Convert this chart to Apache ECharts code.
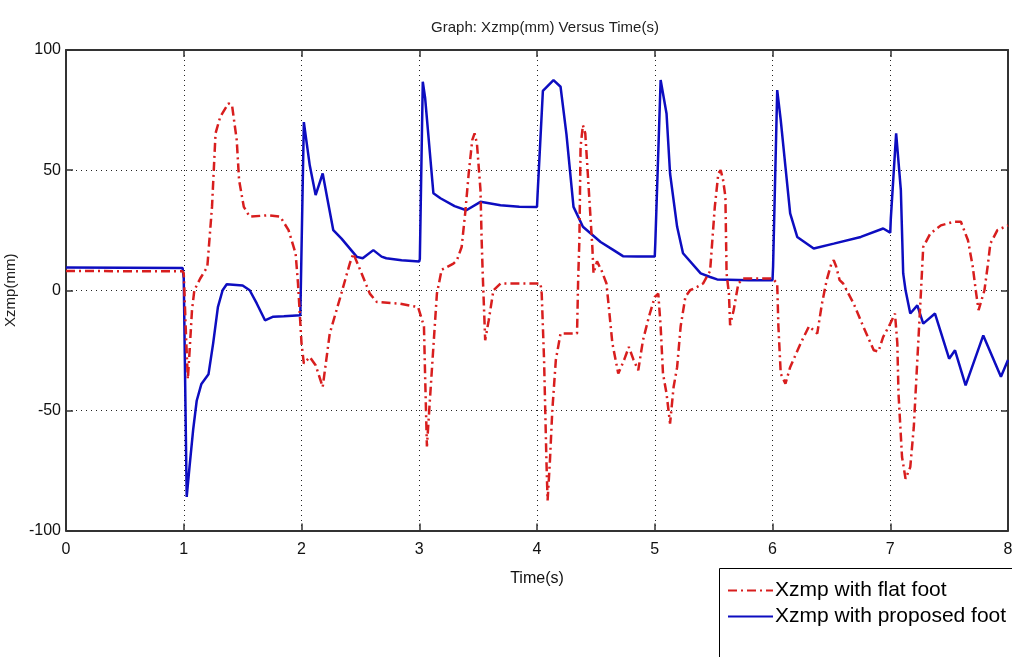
<!DOCTYPE html>
<html>
<head>
<meta charset="utf-8">
<script src="https://cdn.jsdelivr.net/npm/echarts@6/dist/echarts.min.js"></script>
<style>html,body{margin:0;padding:0;background:#fff;}#c{width:1012px;height:657px;}</style>
</head>
<body>
<div id="c"></div>
<script>
var titleText = 'Graph: Xzmp(mm) Versus Time(s)';
var xName = 'Time(s)';
var yName = 'Xzmp(mm)';
var flatName = 'Xzmp with flat foot';
var propName = 'Xzmp with proposed foot';
var xTicks = [0, 1, 2, 3, 4, 5, 6, 7, 8];
var yTicks = [-100, -50, 0, 50, 100];

// Xzmp with proposed foot (blue)
var propT = [0, 0.99, 1.0, 1.025, 1.05, 1.08, 1.11, 1.15, 1.21, 1.25, 1.29, 1.33, 1.365, 1.5, 1.56, 1.62, 1.69, 1.76, 1.85, 1.99,
  2.005, 2.02, 2.07, 2.12, 2.18, 2.22, 2.27, 2.34, 2.47, 2.52, 2.61, 2.68, 2.72, 2.85, 3.0,
  3.005, 3.03, 3.05, 3.12, 3.18, 3.3, 3.4, 3.52, 3.69, 3.85, 4.0,
  4.005, 4.05, 4.14, 4.2, 4.25, 4.31, 4.39, 4.54, 4.65, 4.73, 4.85, 5.0,
  5.005, 5.05, 5.1, 5.13, 5.19, 5.24, 5.39, 5.47, 5.53, 5.8, 6.0,
  6.005, 6.04, 6.07, 6.11, 6.15, 6.21, 6.35, 6.52, 6.75, 6.94, 7.0,
  7.005, 7.05, 7.09, 7.11, 7.13, 7.17, 7.23, 7.28, 7.38, 7.5, 7.55, 7.64, 7.79, 7.94, 8.0];
var propY = [9.5, 9.3, 5, -86, -73, -58, -46, -39, -35, -22, -7, 0, 2.5, 2, 0, -5.5, -12.5, -11, -10.8, -10.4,
  -10, 70, 52, 39.6, 48.6, 38, 25, 21.5, 13.9, 13.3, 16.7, 14, 13.3, 12.5, 12,
  13, 86.8, 80, 40.4, 38.3, 35, 33.3, 36.8, 35.4, 34.8, 34.7,
  40, 83, 87.5, 84.7, 65, 34.7, 26.4, 20.1, 16.7, 14.2, 14, 14,
  20, 87.5, 73.6, 48.6, 26.4, 15.4, 7, 5.5, 4.5, 4.2, 4.2,
  10, 83.3, 70.8, 51.4, 32, 22.2, 17.4, 19.4, 22.2, 25.7, 24,
  30, 65.3, 41.7, 7, 0, -9.7, -6.3, -13.9, -9.7, -28.5, -25, -39.6, -18.8, -36, -29];

// Xzmp with flat foot (red, dash-dot)
var flatT = [0, 0.99, 1.0, 1.02, 1.035, 1.05, 1.07, 1.09, 1.14, 1.2, 1.24, 1.27, 1.31, 1.38, 1.41, 1.45, 1.47, 1.51, 1.56, 1.71, 1.82, 1.89, 1.95, 1.97,
  2.0, 2.02, 2.07, 2.12, 2.18, 2.24, 2.33, 2.41, 2.44, 2.5, 2.58, 2.64, 2.84, 2.99,
  3.04, 3.05, 3.065, 3.09, 3.12, 3.15, 3.19, 3.29, 3.32, 3.36, 3.39, 3.42, 3.45, 3.47, 3.49, 3.52, 3.53, 3.54, 3.56, 3.59, 3.63, 3.69, 4.03,
  4.04, 4.06, 4.08, 4.09, 4.11, 4.13, 4.16, 4.2, 4.34, 4.35, 4.36, 4.37, 4.39, 4.41, 4.44, 4.47, 4.48, 4.51, 4.55, 4.59, 4.64, 4.69, 4.74, 4.78, 4.82, 4.86, 4.9, 4.95, 5.0,
  5.03, 5.05, 5.07, 5.1, 5.13, 5.16, 5.19, 5.22, 5.26, 5.3, 5.36, 5.41, 5.47, 5.51, 5.54, 5.56, 5.58, 5.6, 5.61, 5.63, 5.64, 5.67, 5.71, 5.75, 6.0,
  6.04, 6.05, 6.07, 6.11, 6.15, 6.24, 6.31, 6.35, 6.38, 6.42, 6.46, 6.5, 6.52, 6.54, 6.57, 6.6, 6.69, 6.77, 6.86, 6.9, 6.94, 7.0,
  7.04, 7.06, 7.07, 7.1, 7.13, 7.17, 7.2, 7.23, 7.26, 7.28, 7.34, 7.43, 7.54, 7.6, 7.66, 7.7, 7.73, 7.75, 7.8, 7.83, 7.85, 7.91, 8.0];
var flatY = [8, 7.9, 7, -20, -37, -25, -8.3, 0, 4.9, 9.7, 34.7, 65.3, 72.2, 77.8, 77, 62.5, 45.8, 34.7, 30.6, 31.2, 30.6, 25, 15.3, 3,
  -22, -30.5, -27.8, -31.2, -40.3, -18, -2.8, 11.1, 15.3, 8.3, -1.4, -4.9, -5.6, -7,
  -15, -36, -65, -46, -23.6, -1.4, 8.5, 11.1, 12.5, 18, 32, 48.6, 62.5, 65.3, 61, 41.7, 20.8, 5.5, -20.8, -12.5, 0, 2.8, 2.8,
  -1.4, -29, -70.8, -87.5, -70.8, -50, -29, -18, -18, 5.5, 20.8, 59.7, 68.7, 65.3, 41.7, 18, 7, 12, 8, 2.8, -22, -34.7, -29, -23.6, -29, -33.3, -20.8, -11.1, -2.8,
  -1.4, -15, -34.7, -43, -55.5, -40.3, -32, -15, -2.8, 0, 1.4, 2.8, 8, 34.7, 48.6, 50, 46, 38.9, 7, -1.4, -14.6, -8.3, 2.8, 4.9, 4.9,
  2.8, -15, -34.7, -38.9, -32, -22, -15, -16.7, -18, -5.6, 4.2, 11.1, 12.5, 10, 4.2, 2.8, -5.6, -15, -25, -25.5, -19.4, -13.9,
  -9.7, -22, -43, -69.4, -78.5, -73.6, -57, -29, -1.4, 18, 23.6, 27, 28.5, 28.5, 20.8, 10, -1.4, -8.3, 0, 11, 19.4, 25, 27];

function pairs(t, y) { return t.map(function (v, i) { return [v, y[i]]; }); }

var sans = "'Liberation Sans', Arial, sans-serif";
var chart = echarts.init(document.getElementById('c'));
chart.setOption({
  animation: false,
  backgroundColor: '#fff',
  title: {
    text: titleText, left: 540, top: 15, textAlign: 'center',
    textStyle: { fontFamily: sans, fontSize: 15, fontWeight: 'normal', color: '#222' }
  },
  grid: { left: 66, right: 4, top: 50, bottom: 126.5, containLabel: false, outerBoundsMode: 'none' },
  graphic: [{
    type: 'rect', left: 719, top: 568, z: 100,
    shape: { width: 400, height: 200 },
    style: { fill: '#fff', stroke: '#000', lineWidth: 1 }
  }],
  legend: {
    data: [flatName, propName],
    orient: 'vertical', left: 727, top: 580, z: 110,
    itemWidth: 45, itemHeight: 14, itemGap: 5,
    padding: 0,
    itemStyle: { color: 'rgba(0,0,0,0)', borderWidth: 0, opacity: 0 },
    textStyle: { fontFamily: sans, fontSize: 21, color: '#000', padding: [0, 0, 0, -3] }
  },
  xAxis: [{
    type: 'value', min: 0, max: 8, interval: 1,
    name: xName, nameLocation: 'middle', nameGap: 40,
    nameTextStyle: { fontFamily: sans, fontSize: 16, color: '#111' },
    axisLine: { show: true, onZero: false, lineStyle: { color: '#333', width: 2 } },
    axisTick: { show: true, inside: true, length: 7, lineStyle: { color: '#333', width: 1.5 } },
    axisLabel: { margin: 11, fontFamily: sans, fontSize: 16, color: '#111' },
    splitLine: { show: true, lineStyle: { color: '#222', width: 1, type: [1, 4] } }
  }, {
    type: 'value', min: 0, max: 8, interval: 1, position: 'top',
    axisLine: { show: true, onZero: false, lineStyle: { color: '#333', width: 2 } },
    axisTick: { show: true, inside: true, length: 7, lineStyle: { color: '#333', width: 1.5 } },
    axisLabel: { show: false }, splitLine: { show: false }
  }],
  yAxis: [{
    type: 'value', min: -100, max: 100, interval: 50,
    name: yName, nameLocation: 'middle', nameGap: 43, nameRotate: 90,
    nameTextStyle: { fontFamily: sans, fontSize: 15, color: '#222' },
    axisLine: { show: true, onZero: false, lineStyle: { color: '#333', width: 2 } },
    axisTick: { show: true, inside: true, length: 7, lineStyle: { color: '#333', width: 1.5 } },
    axisLabel: { margin: 5, fontFamily: sans, fontSize: 16, color: '#111' },
    splitLine: { show: true, lineStyle: { color: '#222', width: 1, type: [1, 4] } }
  }, {
    type: 'value', min: -100, max: 100, interval: 50, position: 'right',
    axisLine: { show: true, onZero: false, lineStyle: { color: '#333', width: 2 } },
    axisTick: { show: true, inside: true, length: 7, lineStyle: { color: '#333', width: 1.5 } },
    axisLabel: { show: false }, splitLine: { show: false }
  }],
  series: [{
    name: propName, type: 'line', data: pairs(propT, propY),
    showSymbol: false, symbol: 'none', z: 2,
    lineStyle: { color: '#0d0dc0', width: 2.5 },
    itemStyle: { color: '#0d0dc0' }
  }, {
    name: flatName, type: 'line', data: pairs(flatT, flatY),
    showSymbol: false, symbol: 'none', z: 3,
    lineStyle: { color: '#d81e1e', width: 2.5, type: [9, 4, 2, 4] },
    itemStyle: { color: '#d81e1e' }
  }]
});
</script>
</body>
</html>
